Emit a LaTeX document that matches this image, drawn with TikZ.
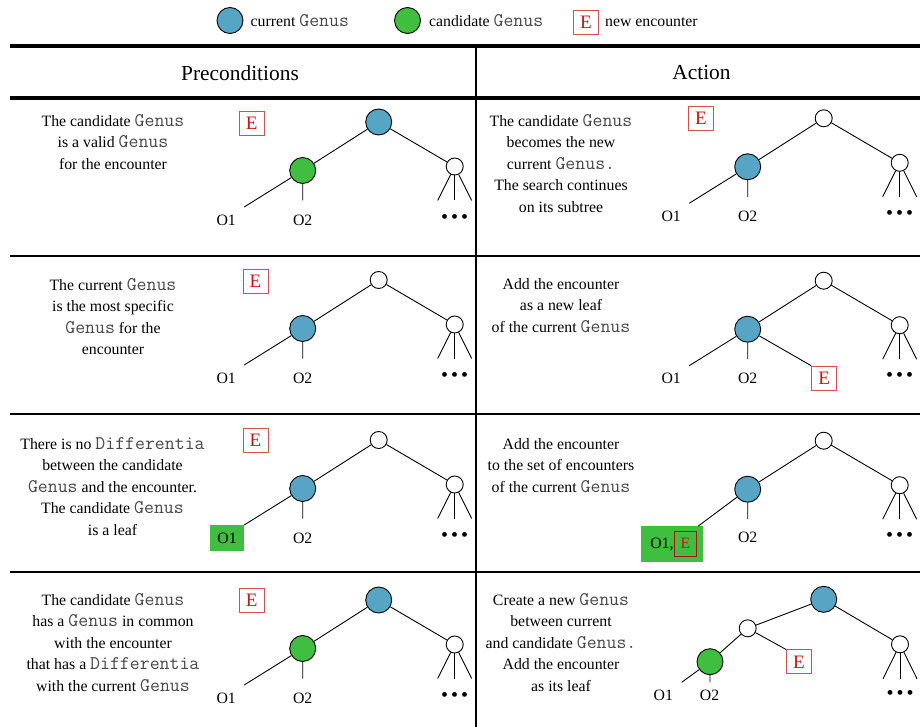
\documentclass[tikz,border=0pt]{standalone}
\usepackage{fontspec}
\setmainfont{Liberation Serif}
\setmonofont{Latin Modern Mono}[Scale=1.22]
\usetikzlibrary{positioning}
\definecolor{curblue}{RGB}{86,165,197}
\definecolor{candgreen}{RGB}{64,190,64}
\definecolor{encred}{RGB}{200,20,20}
\definecolor{encframe}{RGB}{212,80,80}
\newcommand{\gen}[1]{{\ttfamily\color{black!72}#1}}
\tikzset{
  cur/.style={circle,draw,line width=0.9pt,fill=curblue,minimum size=26pt,inner sep=0pt},
  cand/.style={circle,draw,line width=0.9pt,fill=candgreen,minimum size=26pt,inner sep=0pt},
  plain/.style={circle,draw,line width=0.9pt,fill=white,minimum size=17pt,inner sep=0pt},
  enc/.style={draw=encframe,line width=0.9pt,fill=white,text=encred,font=\fontsize{19}{19}\selectfont,minimum width=25pt,minimum height=24pt,inner sep=0pt},
  lbl/.style={inner sep=0pt},
  desc/.style={align=center,anchor=north,inner sep=0pt},
  edge/.style={line width=0.9pt},
  bullets/.style={inner sep=0pt,font=\fontsize{20}{20}\selectfont},
  rule/.style={line width=#1}
}
\newcommand{\bul}{\textbullet\hspace{3pt}\textbullet\hspace{3pt}\textbullet}
\begin{document}
\begin{tikzpicture}[x=1pt,y=-1pt,font=\fontsize{15.8}{21.5}\selectfont]
\useasboundingbox[fill=white] (0,0) rectangle (920,727);
% key
\node[cur] (keycur) at (230,20.5) {};
\node[lbl,right=7pt of keycur] (keycurtxt) {current \gen{Genus}};
\node[cand] (keycand) at (407.5,20.5) {};
\node[lbl,right=8pt of keycand] (keycandtxt) {candidate \gen{Genus}};
\node[enc] (keyenc) at (586,22.5) {E};
\node[lbl,right=6pt of keyenc] (keyenctxt) {new encounter};
% table rules
\draw[rule=4pt] (10,45.7) -- (920,45.7);
\draw[rule=3.5pt] (10,98) -- (920,98);
\draw[rule=1.4pt] (10,255.8) -- (920,255.8);
\draw[rule=1.4pt] (10,413.8) -- (920,413.8);
\draw[rule=1.4pt] (10,571.8) -- (920,571.8);
\draw[rule=2pt] (476.3,45.7) -- (476.3,727);
% header
\node[font=\fontsize{21.4}{24}\selectfont] (hdpre) at (240,73) {Preconditions};
\node[font=\fontsize{21.4}{24}\selectfont] (hdact) at (701.5,73) {Action};
% descriptions
\node[desc] (d1l) at (113,114) {The candidate \gen{Genus}\\is a valid \gen{Genus}\\for the encounter};
\node[desc] (d1r) at (561,114) {The candidate \gen{Genus}\\becomes the new\\current \gen{Genus.}\\The search continues\\on its subtree};
\node[desc] (d2l) at (113,278) {The current \gen{Genus}\\is the most specific\\\gen{Genus} for the\\encounter};
\node[desc] (d2r) at (561,278) {Add the encounter\\as a new leaf\\of the current \gen{Genus}};
\node[desc] (d3l) at (112.5,437) {There is no \gen{Differentia}\\between the candidate\\\gen{Genus} and the encounter.\\The candidate \gen{Genus}\\is a leaf};
\node[desc] (d3r) at (561,438) {Add the encounter\\to the set of encounters\\of the current \gen{Genus}};
\node[desc] (d4l) at (113,593) {The candidate \gen{Genus}\\has a \gen{Genus} in common\\with the encounter\\that has a \gen{Differentia}\\with the current \gen{Genus}};
\node[desc] (d4r) at (561,593) {Create a new \gen{Genus}\\between current\\and candidate \gen{Genus.}\\Add the encounter\\as its leaf};

% row 1, preconditions
\node[enc] (e1l) at (251.7,123.7) {E};
\begin{scope}[shift={(378.7,122)}]
\node[cur] (t1lroot) at (0,0) {};
\node[cand] (t1lkid) at (-76,48.5) {};
\node[plain] (t1lside) at (76,44.5) {};
\coordinate (t1la) at (-134.5,85);
\coordinate (t1lb) at (-76,78.5);
\node[lbl] (t1lO1) at (-152.5,98) {O1};
\node[lbl] (t1lO2) at (-76,98) {O2};
\foreach \i/\dx in {1/-17,2/0,3/17}
  \coordinate (t1lf\i) at (76+\dx,78.5);
\node[bullets] (t1ldots) at (76,96.5) {\bul};
\end{scope}
\draw[edge] (t1lroot) -- (t1lkid) (t1lroot) -- (t1lside) (t1lkid) -- (t1la) (t1lkid) -- (t1lb);
\foreach \i in {1,2,3} \draw[edge] (t1lside) -- (t1lf\i);

% row 1, action
\node[enc] (e1r) at (701,118) {E};
\begin{scope}[shift={(823.7,118.3)}]
\node[plain] (t1rroot) at (0,0) {};
\node[cur] (t1rkid) at (-76,48.5) {};
\node[plain] (t1rside) at (76,44.5) {};
\coordinate (t1ra) at (-134.5,85);
\coordinate (t1rb) at (-76,78.5);
\node[lbl] (t1rO1) at (-152.5,98) {O1};
\node[lbl] (t1rO2) at (-76,98) {O2};
\foreach \i/\dx in {1/-17,2/0,3/17}
  \coordinate (t1rf\i) at (76+\dx,78.5);
\node[bullets] (t1rdots) at (76,96.5) {\bul};
\end{scope}
\draw[edge] (t1rroot) -- (t1rkid) (t1rroot) -- (t1rside) (t1rkid) -- (t1ra) (t1rkid) -- (t1rb);
\foreach \i in {1,2,3} \draw[edge] (t1rside) -- (t1rf\i);

% row 2, preconditions
\node[enc] (e2l) at (255.5,281) {E};
\begin{scope}[shift={(378.7,280)}]
\node[plain] (t2lroot) at (0,0) {};
\node[cur] (t2lkid) at (-76,48.5) {};
\node[plain] (t2lside) at (76,44.5) {};
\coordinate (t2la) at (-134.5,85);
\coordinate (t2lb) at (-76,78.5);
\node[lbl] (t2lO1) at (-152.5,98) {O1};
\node[lbl] (t2lO2) at (-76,98) {O2};
\foreach \i/\dx in {1/-17,2/0,3/17}
  \coordinate (t2lf\i) at (76+\dx,78.5);
\node[bullets] (t2ldots) at (76,96.5) {\bul};
\end{scope}
\draw[edge] (t2lroot) -- (t2lkid) (t2lroot) -- (t2lside) (t2lkid) -- (t2la) (t2lkid) -- (t2lb);
\foreach \i in {1,2,3} \draw[edge] (t2lside) -- (t2lf\i);

% row 2, action
\begin{scope}[shift={(823.7,280.7)}]
\node[plain] (t2rroot) at (0,0) {};
\node[cur] (t2rkid) at (-76,48.5) {};
\node[plain] (t2rside) at (76,44.5) {};
\coordinate (t2ra) at (-134.5,85);
\coordinate (t2rb) at (-76,78.5);
\node[lbl] (t2rO1) at (-152.5,98) {O1};
\node[lbl] (t2rO2) at (-76,98) {O2};
\node[enc] (e2r) at (0.5,97.5) {E};
\foreach \i/\dx in {1/-17,2/0,3/17}
  \coordinate (t2rf\i) at (76+\dx,78.5);
\node[bullets] (t2rdots) at (76,96.5) {\bul};
\end{scope}
\draw[edge] (t2rroot) -- (t2rkid) (t2rroot) -- (t2rside) (t2rkid) -- (t2ra) (t2rkid) -- (t2rb) (t2rkid) -- (e2r.north west);
\foreach \i in {1,2,3} \draw[edge] (t2rside) -- (t2rf\i);

% row 3, preconditions
\node[enc] (e3l) at (255.5,440) {E};
\begin{scope}[shift={(378.7,440)}]
\node[plain] (t3lroot) at (0,0) {};
\node[cur] (t3lkid) at (-76,48.5) {};
\node[plain] (t3lside) at (76,44.5) {};
\coordinate (t3la) at (-134.5,85);
\coordinate (t3lb) at (-76,78.5);
\node[lbl,fill=candgreen,minimum width=34pt,minimum height=25.5pt] (t3lO1) at (-151.7,98) {O1};
\node[lbl] (t3lO2) at (-76,98) {O2};
\foreach \i/\dx in {1/-17,2/0,3/17}
  \coordinate (t3lf\i) at (76+\dx,78.5);
\node[bullets] (t3ldots) at (76,96.5) {\bul};
\end{scope}
\draw[edge] (t3lroot) -- (t3lkid) (t3lroot) -- (t3lside) (t3lkid) -- (t3la) (t3lkid) -- (t3lb);
\foreach \i in {1,2,3} \draw[edge] (t3lside) -- (t3lf\i);

% row 3, action
\begin{scope}[shift={(823.7,440.7)}]
\node[plain] (t3rroot) at (0,0) {};
\node[cur] (t3rkid) at (-76,48.5) {};
\node[plain] (t3rside) at (76,44.5) {};
\node[lbl,fill=candgreen,minimum width=62pt,minimum height=36pt] (t3rbox) at (-151.9,103.1) {};
\coordinate (t3ra) at (-125.4,85.3);
\coordinate (t3rb) at (-76,78.5);
\node[lbl,anchor=east] (t3rO1) at (-150,104) {O1,};
\node[enc,draw=encred!85!black,fill=none,font=\fontsize{15.8}{15.8}\selectfont,minimum width=22.7pt,minimum height=25pt] (e3r) at (-138.3,102.8) {E};
\node[lbl] (t3rO2) at (-76,97) {O2};
\foreach \i/\dx in {1/-17,2/0,3/17}
  \coordinate (t3rf\i) at (76+\dx,78.5);
\node[bullets] (t3rdots) at (76,96.5) {\bul};
\end{scope}
\draw[edge] (t3rroot) -- (t3rkid) (t3rroot) -- (t3rside) (t3rkid) -- (t3ra) (t3rkid) -- (t3rb);
\foreach \i in {1,2,3} \draw[edge] (t3rside) -- (t3rf\i);

% row 4, preconditions
\node[enc] (e4l) at (251.7,600) {E};
\begin{scope}[shift={(378.7,600)}]
\node[cur] (t4lroot) at (0,0) {};
\node[cand] (t4lkid) at (-76,48.5) {};
\node[plain] (t4lside) at (76,44.5) {};
\coordinate (t4la) at (-134.5,85);
\coordinate (t4lb) at (-76,78.5);
\node[lbl] (t4lO1) at (-152.5,98) {O1};
\node[lbl] (t4lO2) at (-76,98) {O2};
\foreach \i/\dx in {1/-17,2/0,3/17}
  \coordinate (t4lf\i) at (76+\dx,78.5);
\node[bullets] (t4ldots) at (76,96.5) {\bul};
\end{scope}
\draw[edge] (t4lroot) -- (t4lkid) (t4lroot) -- (t4lside) (t4lkid) -- (t4la) (t4lkid) -- (t4lb);
\foreach \i in {1,2,3} \draw[edge] (t4lside) -- (t4lf\i);

% row 4, action
\node[cur] (t4rroot) at (823.7,599.3) {};
\node[plain] (t4rnew) at (747.7,628.3) {};
\node[cand] (t4rkid) at (710,661.7) {};
\node[enc] (e4r) at (798.8,661.8) {E};
\node[plain] (t4rside) at (900,644.3) {};
\coordinate (t4ra) at (681.7,682.3);
\coordinate (t4rb) at (710,682.3);
\node[lbl] (t4rO1) at (663.3,695.5) {O1};
\node[lbl] (t4rO2) at (709.5,695.5) {O2};
\foreach \i/\dx in {1/-17,2/0,3/17}
  \coordinate (t4rf\i) at (900+\dx,678.8);
\node[bullets] (t4rdots) at (900,695.3) {\bul};
\draw[edge] (t4rroot) -- (t4rnew) (t4rroot) -- (t4rside) (t4rnew) -- (t4rkid) (t4rnew) -- (e4r.north west) (t4rkid) -- (t4ra) (t4rkid) -- (t4rb);
\foreach \i in {1,2,3} \draw[edge] (t4rside) -- (t4rf\i);
\end{tikzpicture}
\end{document}
